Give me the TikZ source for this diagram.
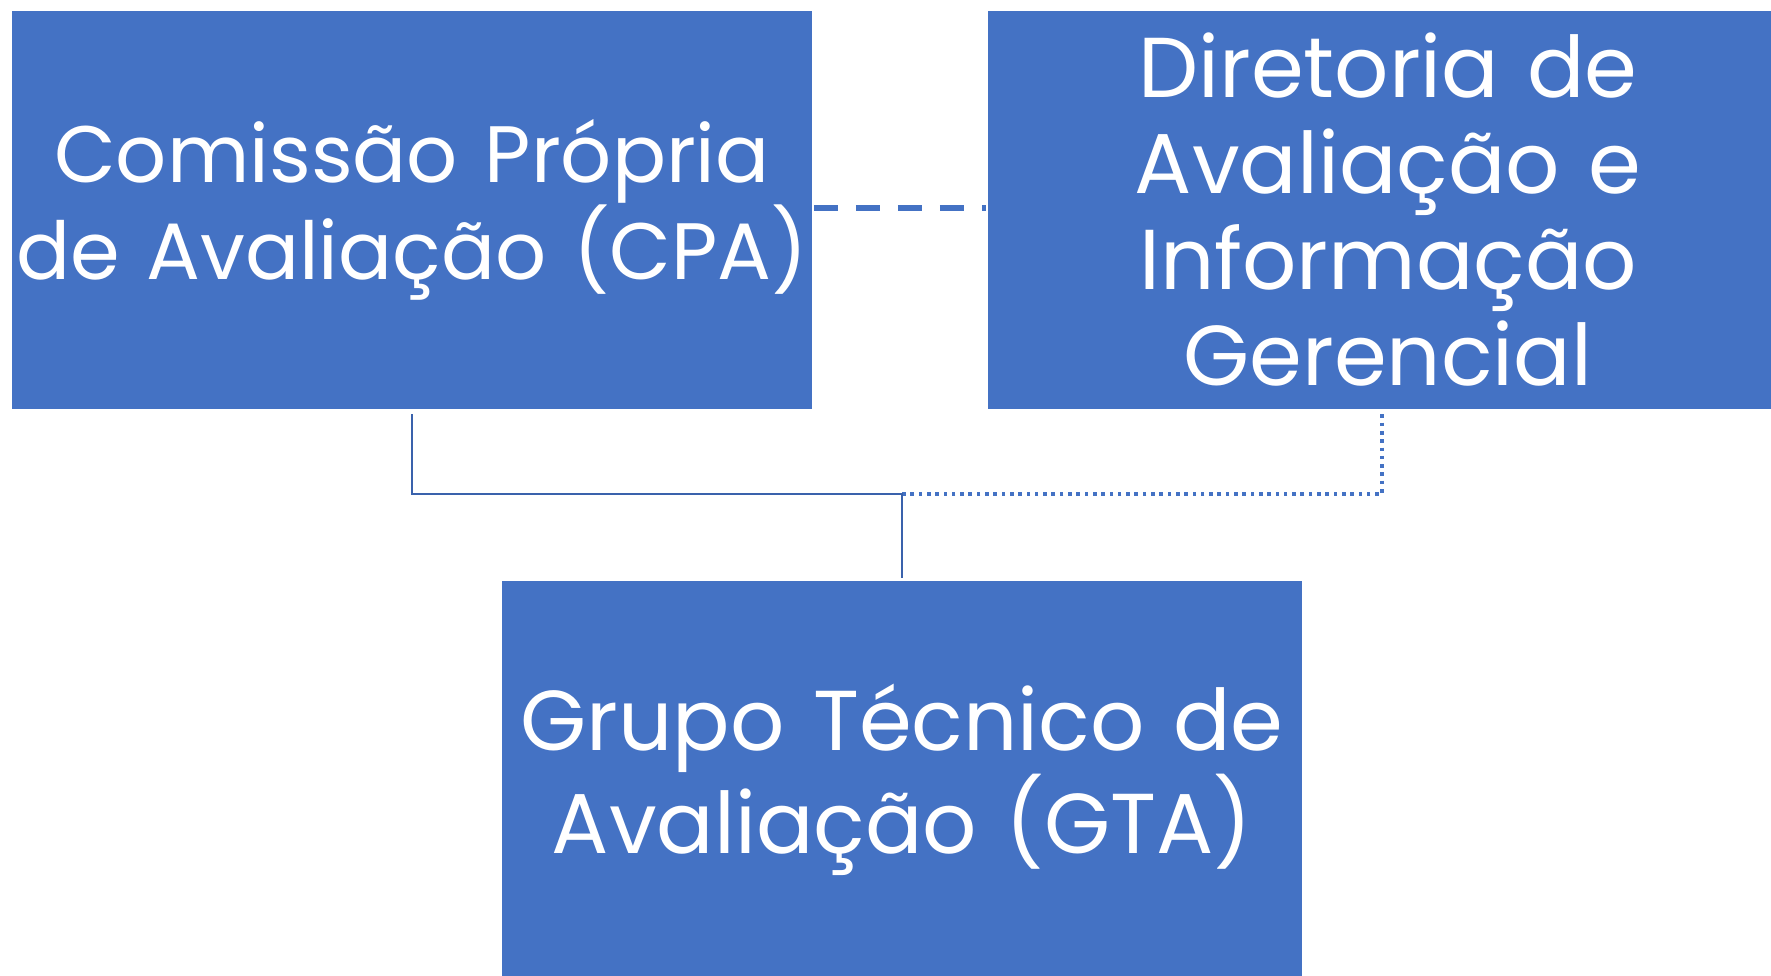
\documentclass[tikz,border=0pt]{standalone}
\usepackage{fontspec}
\setmainfont{Poppins}
\definecolor{boxblue}{HTML}{4472C4}
\definecolor{linedark}{HTML}{3A62AC}
\begin{document}
\begin{tikzpicture}[x=0.5pt,y=-0.5pt,
  orgbox/.style={rectangle, fill=boxblue, draw=white, line width=0.8pt,
    text width=401pt, minimum height=199.5pt, inner sep=0pt,
    text=white, align=center,
    font=\fontsize{42.5}{48}\selectfont},
  solidc/.style={draw=linedark, line width=1.1pt},
  dottedc/.style={draw=boxblue, line width=1.8pt, dash pattern=on 1.8pt off 2.35pt},
  dashedc/.style={draw=boxblue, line width=2.8pt, dash pattern=on 12pt off 9pt}]
\useasboundingbox (0,0) rectangle (1771,975);
\node[orgbox, font=\fontsize{40}{45}\selectfont] (cpa) at (412,210) {Comissão Própria\\de Avaliação (CPA)};
\node[orgbox] (dir) at (1388,210) {Diretoria de\\Avaliação e\\Informação\\Gerencial};
\node[orgbox] (gta) at (902,780) {Grupo Técnico de\\Avaliação (GTA)};
\coordinate (jn) at (902,494);
\draw[dashedc] ([yshift=1pt]cpa.east) -- ([yshift=1pt]dir.west);
\draw[dottedc] ([xshift=-3pt,yshift=-2pt]dir.south) |- (jn);
\draw[solidc] ([yshift=-2pt]cpa.south) |- (jn) -- ([yshift=1pt]gta.north);
\end{tikzpicture}
\end{document}
